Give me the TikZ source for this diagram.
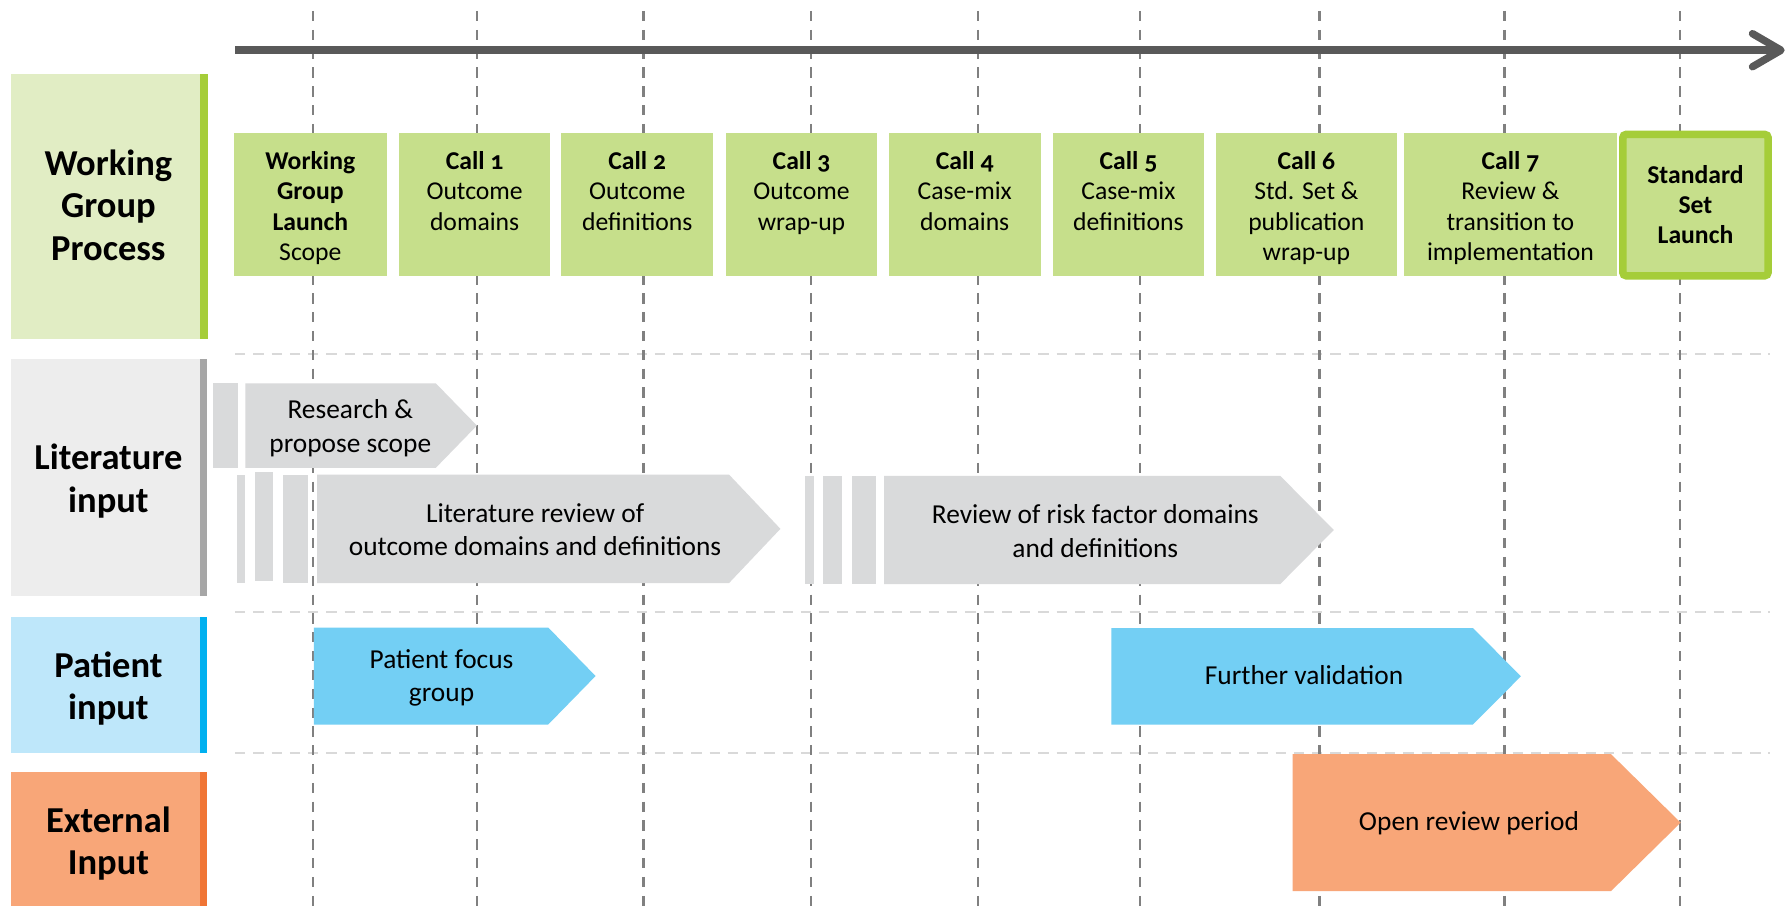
\documentclass[tikz,border=0pt]{standalone}
\usepackage{fontspec}
\setmainfont{Carlito}[Numbers=OldStyle]
\definecolor{callgreen}{HTML}{C6DF8B}
\definecolor{brightgreen}{HTML}{A5CD39}
\definecolor{wgpfill}{HTML}{E1EDC4}
\definecolor{litfill}{HTML}{EDEDED}
\definecolor{litbar}{HTML}{A6A6A6}
\definecolor{patfill}{HTML}{BEE7FA}
\definecolor{patbar}{HTML}{00B0F0}
\definecolor{extfill}{HTML}{F8A678}
\definecolor{extbar}{HTML}{F07535}
\definecolor{shapegray}{HTML}{D9DADB}
\definecolor{shapeblue}{HTML}{73CFF4}
\definecolor{axisgray}{HTML}{595959}
\definecolor{vgray}{HTML}{808080}
\definecolor{hgray}{HTML}{D9D9D9}
\newcommand\chevbox[6]{%
  \fill[#1] (#2,#5) -- (#3,#5) -- (#4,{(#5+#6)/2}) -- (#3,#6) -- (#2,#6) -- cycle;}
\begin{document}
\begin{tikzpicture}[x=1pt,y=-1pt,
  vline/.style={draw=vgray,line width=2.2pt,dash pattern=on 9pt off 7.5pt},
  hline/.style={draw=hgray,line width=2pt,dash pattern=on 9pt off 7pt},
  calltxt/.style={anchor=north,inner sep=0pt,align=center,font=\fontsize{22.5}{26.6}\selectfont},
  hdrtxt/.style={anchor=north,inner sep=0pt,align=center,font=\fontsize{32}{37.5}\selectfont\bfseries},
  rowtxt/.style={anchor=north,inner sep=0pt,align=center,font=\fontsize{24}{29}\selectfont}]
\useasboundingbox (0,0) rectangle (1568,794);
\fill[white] (0,0) rectangle (1568,794);

% horizontal separators
\foreach \yy in {310.5,536.5,660} \draw[hline] (206,\yy) -- (1551,\yy);
% vertical time lines
\foreach \xx in {274.5,418,564,711,857,999,1156.5,1318.5,1472.5} \draw[vline] (\xx,9.6) -- (\xx,794);

% timeline arrow
\coordinate (t0) at (206,44);
\coordinate (t1) at (1556,44);
\coordinate (ta) at (1536,29.5);
\coordinate (tb) at (1561,44);
\coordinate (tc) at (1536,58.5);
\draw[axisgray,line width=6.5pt] (t0) -- (t1);
\draw[axisgray,line width=6.5pt,line cap=round,line join=round] (ta) -- (tb) -- (tc);

% left headers
\fill[wgpfill] (10,65) rectangle (175,297);
\fill[brightgreen] (175,65) rectangle (182,297);
\fill[litfill] (10,315) rectangle (175,522);
\fill[litbar] (175,315) rectangle (181,522);
\fill[patfill] (10,541) rectangle (175,660);
\fill[patbar] (175,541) rectangle (181,660);
\fill[extfill] (10,677) rectangle (175,794);
\fill[extbar] (175,677) rectangle (181,794);
\node[hdrtxt] (hwgp) at (95,127) {\strut Working\\Group\\Process};
\node[hdrtxt] (hlit) at (95,384.8) {\strut Literature\\input};
\node[hdrtxt] (hpat) at (95,567) {\strut Patient\\input};
\node[hdrtxt] (hext) at (95,702.8) {\strut External\\Input};

% call boxes
\foreach \a/\b in {205/339,350/482,492/625,636/769,779/912,923/1055,1066/1224,1230.5/1417}
  \fill[callgreen] (\a,117) rectangle (\b,242);
\draw[brightgreen,fill=callgreen,line width=6.6pt,rounded corners=3pt] (1422.3,117.8) rectangle (1549.7,241.7);

\node[calltxt] (wg) at (272,129.7) {\strut\textbf{Working}\\\textbf{Group}\\\textbf{Launch}\\Scope};
\node[calltxt] (c1) at (416,129.7) {\strut\textbf{Call 1}\\Outcome\\domains};
\node[calltxt] (c2) at (558.5,129.7) {\strut\textbf{Call 2}\\Outcome\\definitions};
\node[calltxt] (c3) at (702.5,129.7) {\strut\textbf{Call 3}\\Outcome\\wrap-up};
\node[calltxt] (c4) at (845.5,129.7) {\strut\textbf{Call 4}\\Case-mix\\domains};
\node[calltxt] (c5) at (989,129.7) {\strut\textbf{Call 5}\\Case-mix\\definitions};
\node[calltxt] (c6) at (1145,129.7) {\strut\textbf{Call 6}\\Std. Set \&\\publication\\wrap-up};
\node[calltxt] (c7) at (1323.8,129.7) {\strut\textbf{Call 7}\\Review \&\\transition to\\implementation};
\node[calltxt] (std) at (1486,141.7) {\strut\textbf{Standard}\\\textbf{Set}\\\textbf{Launch}};

% literature row
\fill[shapegray] (187,336) rectangle (209,410);
\chevbox{shapegray}{215}{382}{418}{336}{410}
\fill[shapegray] (208,416) rectangle (215,511);
\fill[shapegray] (223.5,414) rectangle (239.5,509);
\fill[shapegray] (248,416) rectangle (270,511);
\chevbox{shapegray}{278}{639}{684}{416}{511}
\fill[shapegray] (705.5,417) rectangle (713,512);
\fill[shapegray] (721.5,417) rectangle (738,512);
\fill[shapegray] (746.5,417) rectangle (768,512);
\chevbox{shapegray}{775}{1122}{1169}{417}{512}
\node[rowtxt] (research) at (307,346.7) {\strut Research \&\\propose scope};
\node[rowtxt] (litrev) at (469,437.7) {\strut Literature review of\\outcome domains and definitions};
\node[rowtxt] (risk) at (960,438.7) {\strut Review of risk factor domains\\and definitions};

% patient row
\chevbox{shapeblue}{275}{480.5}{522}{550}{635}
\chevbox{shapeblue}{974}{1291}{1333}{550.5}{635}
\node[rowtxt] (focus) at (387,565.7) {\strut Patient focus\\group};
\node[rowtxt] (further) at (1143,579.7) {\strut Further validation};

% external row
\chevbox{extfill}{1133}{1412}{1473}{661}{781}
\node[rowtxt] (open) at (1287.5,707.2) {\strut Open review period};
\end{tikzpicture}
\end{document}
